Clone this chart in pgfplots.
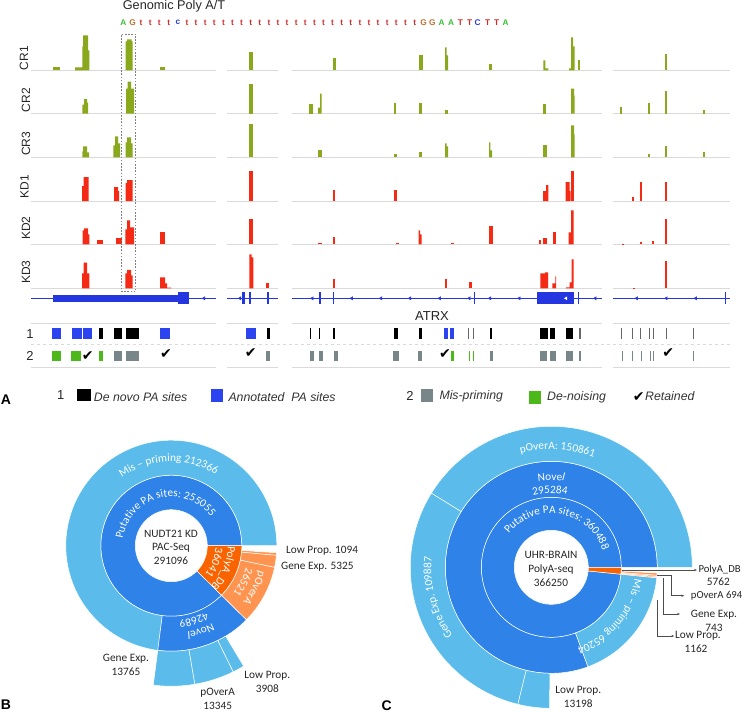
\documentclass[border=0pt]{standalone}
\usepackage{fontspec}
\usepackage{xfp}
\usepackage{pgfplots}
\pgfplotsset{compat=1.18}
\usetikzlibrary{decorations.text,arrows.meta}
\setmainfont{Liberation Sans}
\newfontfamily\calfont{Carlito}
\newfontfamily\dvfont{DejaVu Sans}

\definecolor{cr}{HTML}{8AA81C}
\definecolor{kd}{HTML}{F42A14}
\definecolor{gene}{HTML}{2436E0}
\definecolor{annot}{HTML}{2B44F0}
\definecolor{mispr}{HTML}{78868A}
\definecolor{denoise}{HTML}{4CB81A}
\definecolor{baseg}{HTML}{DADADA}
\definecolor{dblue}{HTML}{2E82E8}
\definecolor{lblue}{HTML}{5BBCEC}
\definecolor{dorange}{HTML}{F96400}
\definecolor{lorange}{HTML}{FF9450}
\definecolor{seqA}{HTML}{35C035}
\definecolor{seqG}{HTML}{C07030}
\definecolor{seqT}{HTML}{D42A2A}
\definecolor{seqC}{HTML}{2A3ADD}

% coverage bars: x0/x1/height on a baseline, touching steps make one peak
\newcommand{\track}[3]{%
  \xdef\pts{}\xdef\prev{-1}%
  \foreach \a/\b/\h in {#3}{%
    \ifdim\a pt=\prev pt\relax\else
      \ifdim\prev pt>0pt\relax
        \edef\temp{\noexpand\addplot[fill=#2,draw=none] coordinates {\pts (\prev,#1)} -- cycle;}\temp
      \fi
      \xdef\pts{(\a,#1)}%
    \fi
    \xdef\pts{\pts (\a,\fpeval{#1-\h}) (\b,\fpeval{#1-\h})}%
    \xdef\prev{\b}}%
  \edef\temp{\noexpand\addplot[fill=#2,draw=none] coordinates {\pts (\prev,#1)} -- cycle;}\temp}
% boxes between two y values: x0/x1
\newcommand{\boxes}[4]{%
  \foreach \a/\b in {#4}{%
    \edef\temp{\noexpand\addplot[fill=#3,draw=none] coordinates {(\a,#1) (\a,#2) (\b,#2) (\b,#1)} -- cycle;}\temp}}
\newcommand{\panels}[2]{%
  \addplot[#2] coordinates {(31,#1) (215.7,#1)};
  \addplot[#2] coordinates {(227,#1) (278.3,#1)};
  \addplot[#2] coordinates {(292.3,#1) (602,#1)};
  \addplot[#2] coordinates {(612.7,#1) (730.3,#1)};}
\newcommand{\seqletter}[3]{%
  \xdef\pts{}%
  \foreach \a in {#3}{\xdef\pts{\pts (\a,22.7)}}%
  \edef\temp{\noexpand\addplot[draw=none,mark=none,nodes near coords={#2},
    every node near coord/.append style={anchor=center,inner sep=0pt,text=#1,
    font=\noexpand\bfseries\noexpand\fontsize{8.3}{9}\noexpand\selectfont}] coordinates {\pts};}\temp}
% one ring of a sunburst: count/colour pieces, going anticlockwise from east
\newcommand{\sector}[7]{%
  \edef\n{\fpeval{max(1,ceil((#6-#5)/2))}}%
  \xdef\pts{}%
  \foreach \i in {0,...,\n}{%
    \xdef\pts{\pts (\fpeval{round(#1+#4*cosd(#5+(#6-#5)*\i/\n),2)},\fpeval{round(#2-#4*sind(#5+(#6-#5)*\i/\n),2)})}}%
  \foreach \i in {\n,...,0}{%
    \xdef\pts{\pts (\fpeval{round(#1+#3*cosd(#5+(#6-#5)*\i/\n),2)},\fpeval{round(#2-#3*sind(#5+(#6-#5)*\i/\n),2)})}}%
  \edef\temp{\noexpand\addplot[fill=#7,draw=white,line width=0.5pt] coordinates {\pts} -- cycle;}\temp}
\newcommand{\ring}[7]{% cx cy r0 r1 total startcount pieces
  \xdef\cum{#6}%
  \foreach \c/\col in {#7}{%
    \xdef\aa{\fpeval{360*\cum/#5}}%
    \xdef\cum{\fpeval{\cum+\c}}%
    \xdef\ab{\fpeval{360*\cum/#5}}%
    \sector{#1}{#2}{#3}{#4}{\aa}{\ab}{\col}}}
\newcommand{\wf}{\calfont\fontsize{11.3}{13}\selectfont\color{white}}
\newcommand{\arctext}[5]{%
  \path[decorate,decoration={text along path,text align=center,text={|\wf|#5}}]
    (axis cs:{\fpeval{#1+#3*cosd(#4+85)}},{\fpeval{#2-#3*sind(#4+85)}})
    arc[start angle=\fpeval{#4+85},end angle=\fpeval{#4-85},radius=#3pt];}
\newcommand{\clab}[4]{\node[anchor=#3,inner sep=0pt,text=black!85,align=center,font=\calfont\fontsize{11.3}{13.7}\selectfont] at (axis cs:#1,#2) {#4};}
\newcommand{\chk}[2]{\node[inner sep=0pt,font=\dvfont\fontsize{14}{14}\selectfont] at (axis cs:#1,#2) {✔};}
\newcommand{\tlab}[3]{\node[rotate=90,font=\fontsize{12}{13}\selectfont,inner sep=0pt,text=black!85] at (axis cs:#1,#2) {#3};}
\newcommand{\ilab}[3]{\node[font=\itshape\fontsize{12.3}{14}\selectfont,inner sep=0pt,anchor=west,text=black!80] at (axis cs:#1,#2) {#3};}

\begin{document}
\begin{tikzpicture}
\path[use as bounding box] (0,0) rectangle (742pt,713pt);
\begin{axis}[
  at={(0,0)},anchor=south west,
  scale only axis,width=742pt,height=713pt,
  xmin=0,xmax=742,ymin=0,ymax=713,y dir=reverse,
  hide axis,clip=false]

% tracks
\panels{70.3}{baseg,line width=1pt}
\panels{113.7}{baseg,line width=1pt}
\panels{157.3}{baseg,line width=1pt}
\panels{201}{baseg,line width=1pt}
\panels{244.3}{baseg,line width=1pt}
\panels{288.3}{baseg,line width=1pt}

\track{70.3}{cr}{53.3/60/3,75/82.3/3,82.3/83/24,83/88/35,88/89.3/20,125.7/127/29,127/131.5/31,131.5/132.7/29,160/165/3,249.3/253.3/18,333/336/12,418.7/422.7/15,445/446.7/23,446.7/448/15,489/492.3/6,543.3/545.3/10,545.3/548.3/2,569/571/2,571/573/33,573/574.7/24,578.3/580.3/10,665.3/667.3/16}
\track{113.7}{cr}{82.3/84/9,84/87/14.5,87/88/11,126/127.5/25,127.5/131/32,131/134/25,249.3/253/30,309/312.7/10,318/320/6,320/321.7/20,394/396/11,418.7/421.7/11,445/448/4,543.3/546/9.5,571/574/25,574/574.7/18,620.3/622.3/7,648/650/11,665.3/667.3/23,703/704.7/4}
\track{157.3}{cr}{82.3/83/6,83/87/11,87/89/5,113.3/115/12,115/118/21,118/120/14,125.7/127/15,127/131/20,131/132.7/14,249.3/253.3/33,318/321.7/7,394/397/3,418.7/421.7/5,445/446.7/14,446.7/448/11,489/490.3/15,490.3/492/7,543.3/547/12,571/574/32,574/574.7/23,648/650/3,665.3/667.3/11,703/704.7/5}
\track{201}{kd}{82/83.5/15,83.5/88.7/24,114/118/14,118/119/10,125.7/127/18,127/132.7/21,249.3/253.3/30,333/335/11,394/397.3/11,543/546/10,546/548.3/16,565.7/569.7/19,569.7/570.5/10,571/574/30,632/634/4,640/642/19,665.3/667.3/19}
\track{244.3}{kd}{82.7/84/14,84/88/16,88/89.3/10,97.3/102.7/4,116/122.3/6,125.3/127/15,127/130/24,130/134/17,160.3/165/12,249.3/252.7/25,318/321.7/1,333/335/7,396/399/1.5,418.7/420/14,420/421.7/10,451/454/1.5,489/493/18,539/541.3/4,543.3/547/6,553/556/12,568.7/571/12,571/573.7/34,622.3/624.3/0.7,640/642/2,652/654/3.5,665.3/667.3/25}
\track{288.3}{kd}{82/83.5/15,83.5/87/25.7,87/89.3/15,125.3/127/15,127/131/18.5,131/132.7/13,160/165/11,165/167/5,167/171/0.7,249.3/251.5/34,251.5/253.3/31,266/269/5,333/335/9,445/447/9,468.7/471.7/6,540.3/545/15,545/548/16,552.3/555.3/5,555.3/556/12,566/569.7/1,569.7/571.7/6,571.7/573.7/29,633/634.5/0.5,665.3/667.3/27}

% gene model
\panels{298.3}{gene,line width=0.9pt}
\boxes{295}{301.6}{gene}{53.3/178.3}
\boxes{292.3}{304.3}{gene}{178.3/189,241.7/245,249.3/251,267.3/269.3,319/321,333/334.2,473.7/474.9,536.7/573.7,578/579.2,725/726}
\addplot[only marks,mark=triangle*,mark size=1.8pt,mark options={rotate=90,fill=gene,draw=gene}]
  coordinates {(204,298.3) (240,298.3) (312.3,298.3) (351.7,298.3) (381,298.3) (410,298.3) (439.7,298.3) (469.3,298.3) (490,298.3) (519.3,298.3) (595.3,298.3) (636.7,298.3) (666.3,298.3) (695.7,298.3)};
\addplot[only marks,mark=triangle*,mark size=1.6pt,mark options={rotate=90,fill=white,draw=white}]
  coordinates {(566,298.3)};

% site rows
\panels{323}{baseg,line width=1pt}
\panels{367.7}{baseg,line width=1pt}
\addplot[baseg,line width=0.7pt,dashed] coordinates {(31,344.3) (730.3,344.3)};
\boxes{328}{338.5}{annot}{51.7/61.3,72/82.3,83.3/91.7,160/170.3,246/256.3,443.7/448.3,450.3/453.7}
\boxes{328}{338.5}{black}{99/103.3,114.3/122,126/138.7,267/270.3,309.7/311.3,318.7/320.3,333.3/335,394.3/398.3,418.7/421.7,490/492.3,540.3/548,550/554.7,565.7/573.3}
\boxes{328}{338.5}{black!60}{468.3/469.3,472.7/473.7,579/580.7,621.4/622.2,632/632.8,640/640.8,649/649.8,653/653.8,665.6/666.6,693/693.8}
\boxes{351}{361}{denoise}{51.7/61.3,71/81,99.3/103.3,451.3/453.7,468.7/469.7,472.9/473.9}
\boxes{351}{361}{mispr}{114.3/122,126/138.7,266.3/269.7,310.3/313.7,319.3/323,334/337.7,393.3/399.3,418.3/422.3,490/493.3,540.3/547.3,550/555.7,565.7/573.3,579.3/580.7,622/622.8,632/632.8,640.6/641.4,649.6/650.4,653.3/654.1,693/693.8}
\chk{87.7}{355.7}\chk{166}{354.3}\chk{250.7}{353.3}\chk{445}{354.3}\chk{668.3}{353.3}

% poly A/T sequence
\seqletter{seqA}{A}{123.3,441.7,451,505.7}
\seqletter{seqG}{G}{132.7,423.7,432.3}
\seqletter{seqC}{c}{178}
\seqletter{seqC}{C}{477.7}
\seqletter{seqT}{T}{460.3,469.7,487.7,496.7}
\seqletter{seqT}{t}{141,150.3,159.3,168.7,187,196.1,205.2,214.3,223.4,232.5,241.6,250.7,259.8,268.9,278,287.1,296.2,305.3,314.4,323.5,332.6,341.7,350.8,359.9,369,378.1,387.2,396.3,405.4,414.7}
\addplot[black!50,line width=0.9pt,dash pattern=on 1.6pt off 1.6pt] coordinates {(121.7,34) (135.7,34) (135.7,291.7) (121.7,291.7) (121.7,34)};

\node[font=\fontsize{12.7}{14}\selectfont,inner sep=0pt,text=black!85] at (axis cs:174,6.5) {Genomic Poly A/T};
\tlab{24}{58}{CR1}
\tlab{26}{100}{CR2}
\tlab{26}{143.7}{CR3}
\tlab{24.5}{186.5}{KD1}
\tlab{26}{228}{KD2}
\tlab{26}{272}{KD3}
\node[font=\fontsize{13}{14}\selectfont,inner sep=0pt,text=black!85] at (axis cs:432,316) {ATRX};
\node[font=\fontsize{13}{14}\selectfont,inner sep=0pt,text=black!85] at (axis cs:30,334) {1};
\node[font=\fontsize{13}{14}\selectfont,inner sep=0pt,text=black!85] at (axis cs:30,356) {2};

% legend of panel A
\node[font=\bfseries\fontsize{14}{15}\selectfont,inner sep=0pt] at (axis cs:6,400) {A};
\node[font=\fontsize{13}{14}\selectfont,inner sep=0pt,text=black!85] at (axis cs:60.7,395) {1};
\boxes{389}{401}{black}{77.3/90.7}
\boxes{389}{401.7}{annot}{211/223.3}
\boxes{389}{401.7}{mispr}{420.7/433}
\boxes{390.7}{403.7}{denoise}{528.7/541.3}
\node[font=\fontsize{13}{14}\selectfont,inner sep=0pt,text=black!85] at (axis cs:410,396) {2};
\ilab{93.7}{397}{De novo PA sites}
\ilab{228.3}{397}{Annotated\ \ PA sites}
\ilab{439.3}{396}{Mis-priming}
\ilab{547}{397}{De-noising}
\ilab{645}{396}{Retained}
\chk{638.7}{396.7}

% panel B
\ring{171.3}{545.7}{36}{70.5}{291096}{0}{255055/dblue,36041/dorange}
\ring{171.3}{545.7}{70.5}{105.5}{291096}{0}{212366/lblue,42689/dblue,26521/lorange,5325/lorange,1094/lorange}
\ring{171.3}{545.7}{105.5}{140.5}{291096}{212366}{13765/lblue,13345/lblue,3908/lblue}
\arctext{171.3}{545.7}{84}{92}{Mis – priming 212366}
\arctext{171.3}{545.7}{49}{104}{Putative PA sites: 255055}
\arctext{171.3}{545.7}{56.5}{-23}{PolyA{\_}DB}
\arctext{171.3}{545.7}{44}{-21}{36041}
\arctext{171.3}{545.7}{91}{-27}{pOverA}
\arctext{171.3}{545.7}{78}{-27}{26521}
\arctext{171.3}{545.7}{88}{-71}{Nove|\wf\itshape|l}
\arctext{171.3}{545.7}{75}{-73}{42689}
\clab{171}{547.3}{center}{NUDT21 KD\\PAC-Seq\\291096}
\clab{286}{550.7}{west}{Low Prop. 1094}
\clab{281}{566.7}{west}{Gene Exp. 5325}
\clab{126}{665}{center}{Gene Exp.\\13765}
\clab{267.3}{682}{center}{Low Prop.\\3908}
\clab{217.7}{699}{center}{pOverA\\13345}
\node[font=\bfseries\fontsize{14}{15}\selectfont,inner sep=0pt] at (axis cs:6,705) {B};

% panel C
\ring{551.3}{567.3}{37}{70}{366250}{0}{360488/dblue,5762/dorange}
\ring{551.3}{567.3}{70}{106}{366250}{0}{295284/dblue,65204/lblue,694/lorange,743/lorange,1162/lorange}
\ring{551.3}{567.3}{106}{141}{366250}{0}{150861/lblue,109887/lblue,13198/lblue}
\arctext{551.3}{567.3}{118}{87}{pOverA: 150861}
\arctext{551.3}{567.3}{87}{90}{Nove|\wf\itshape|l}
\arctext{551.3}{567.3}{74}{91}{295284}
\arctext{551.3}{567.3}{54}{80}{Putative PA sites: 360488}
\arctext{551.3}{567.3}{120}{195}{Gene Exp. 109887}
\arctext{551.3}{567.3}{84}{-40}{Mis – priming 65204}
\clab{551}{569}{center}{UHR-BRAIN\\PolyA-seq\\366250}
\addplot[black!70,line width=0.5pt,-{Stealth[length=3pt]}] coordinates {(621.7,570) (697,570)};
\addplot[black!70,line width=0.5pt,-{Stealth[length=3pt]}] coordinates {(656.7,575) (671.7,575) (671.7,595.7) (684.3,595.7)};
\addplot[black!70,line width=0.5pt,-{Stealth[length=3pt]}] coordinates {(663.3,578.3) (663.3,614) (680,614)};
\addplot[black!70,line width=0.5pt,-{Stealth[length=3pt]}] coordinates {(657.7,600) (657.7,636) (674.3,636)};
\node[anchor=west,inner sep=0pt,text=black!85,font=\calfont\fontsize{10.7}{13}\selectfont] at (axis cs:698.3,570) {PolyA\_DB};
\clab{718.3}{581.7}{center}{5762}
\node[anchor=west,inner sep=0pt,text=black!85,font=\calfont\fontsize{10.7}{13}\selectfont] at (axis cs:690.7,595.7) {pOverA 694};
\clab{714}{620.7}{center}{Gene Exp.\\743}
\clab{675}{636}{west}{Low Prop.}
\clab{696}{648.3}{center}{1162}
\clab{578.3}{697}{center}{Low Prop.\\13198}
\node[font=\bfseries\fontsize{14}{15}\selectfont,inner sep=0pt] at (axis cs:386.7,705.7) {C};
\end{axis}
\end{tikzpicture}
\end{document}
